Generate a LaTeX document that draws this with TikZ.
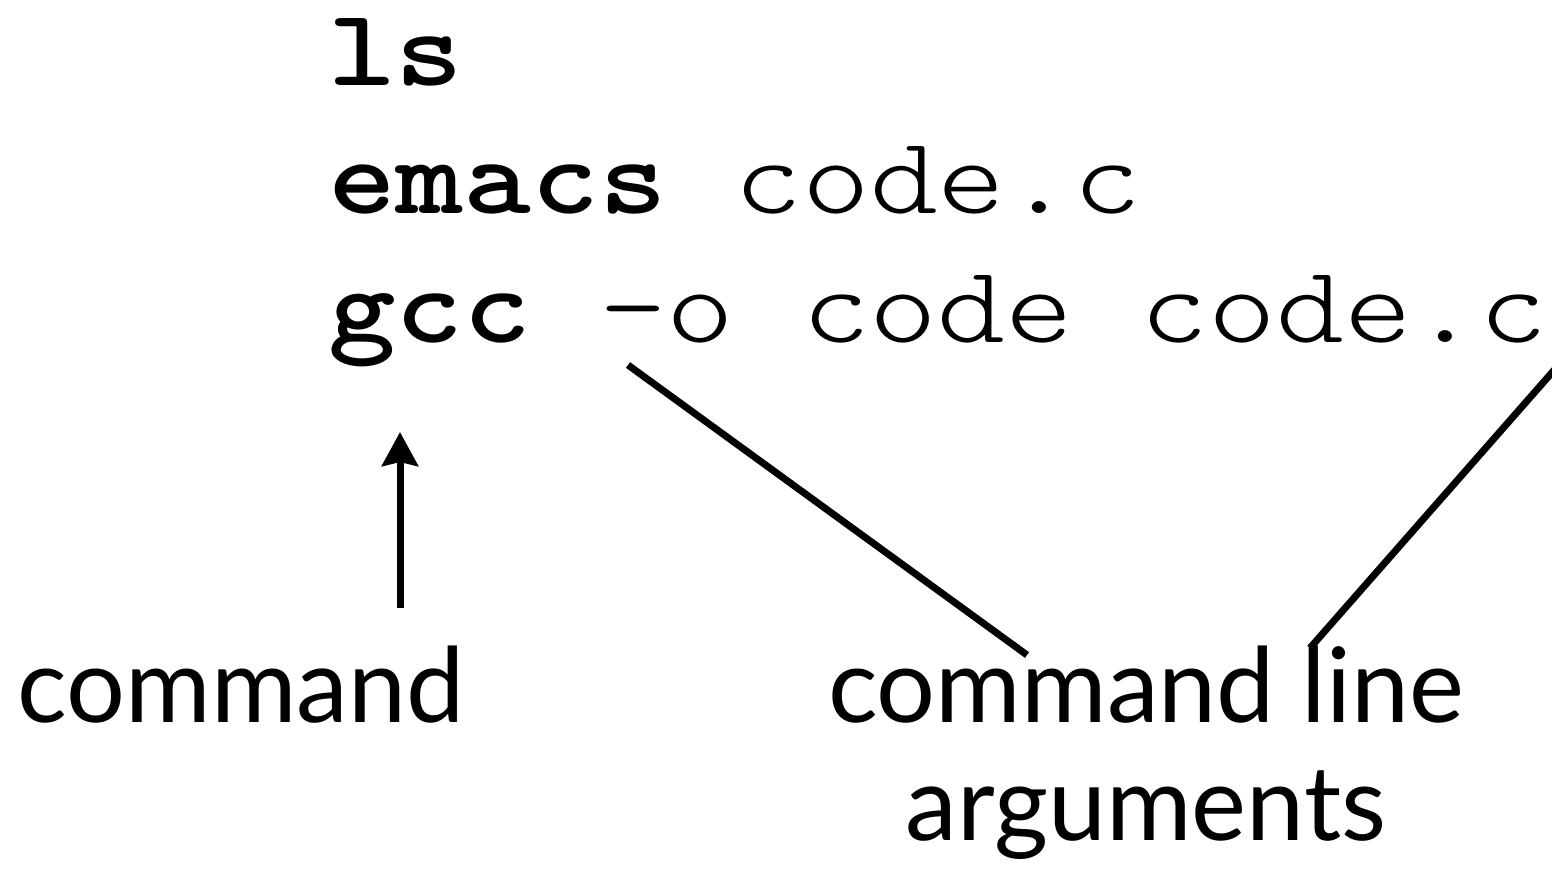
\documentclass[tikz,border=0pt]{standalone}
\usepackage{fontspec}
\setmainfont{Lato}
\newfontfamily\codefont{Latin Modern Mono Light}
\usetikzlibrary{arrows.meta}
\newcommand{\codetext}[1]{\scalebox{1}[0.85]{#1}}
\begin{document}
\begin{tikzpicture}[x=1pt,y=-1pt,
  code/.style={inner sep=0pt,anchor=base west,font=\fontsize{129}{129}\selectfont\codefont},
  label/.style={inner sep=0pt,anchor=base,font=\fontsize{104}{104}\selectfont},
  conn/.style={line width=7pt},
  arr/.style={line width=7pt,-{Stealth[length=34pt,width=36pt,inset=4pt]}}]
\useasboundingbox (0,0) rectangle (1552,873);
\node[code] (ls) at (328,85) {\codetext{\textbf{ls}}};
\node[code] (emacs) at (328,213) {\codetext{\textbf{emacs} code.c}};
\node[code] (gcc) at (328,342) {\codetext{\textbf{gcc} -o code code.c}};
\node[label] (cmd) at (241,722) {command};
\node[label] (cla) at (1146,722) {command line};
\node[label] (args) at (1146,840) {arguments};
\coordinate (a0) at (400,608);
\coordinate (a1) at (400,432);
\coordinate (l1s) at (628,365);
\coordinate (l1e) at (1027,655);
\coordinate (l2s) at (1570,352);
\coordinate (l2e) at (1310,648);
\draw[arr] (a0) -- (a1);
\draw[conn] (l1s) -- (l1e);
\draw[conn] (l2s) -- (l2e);
\end{tikzpicture}
\end{document}
